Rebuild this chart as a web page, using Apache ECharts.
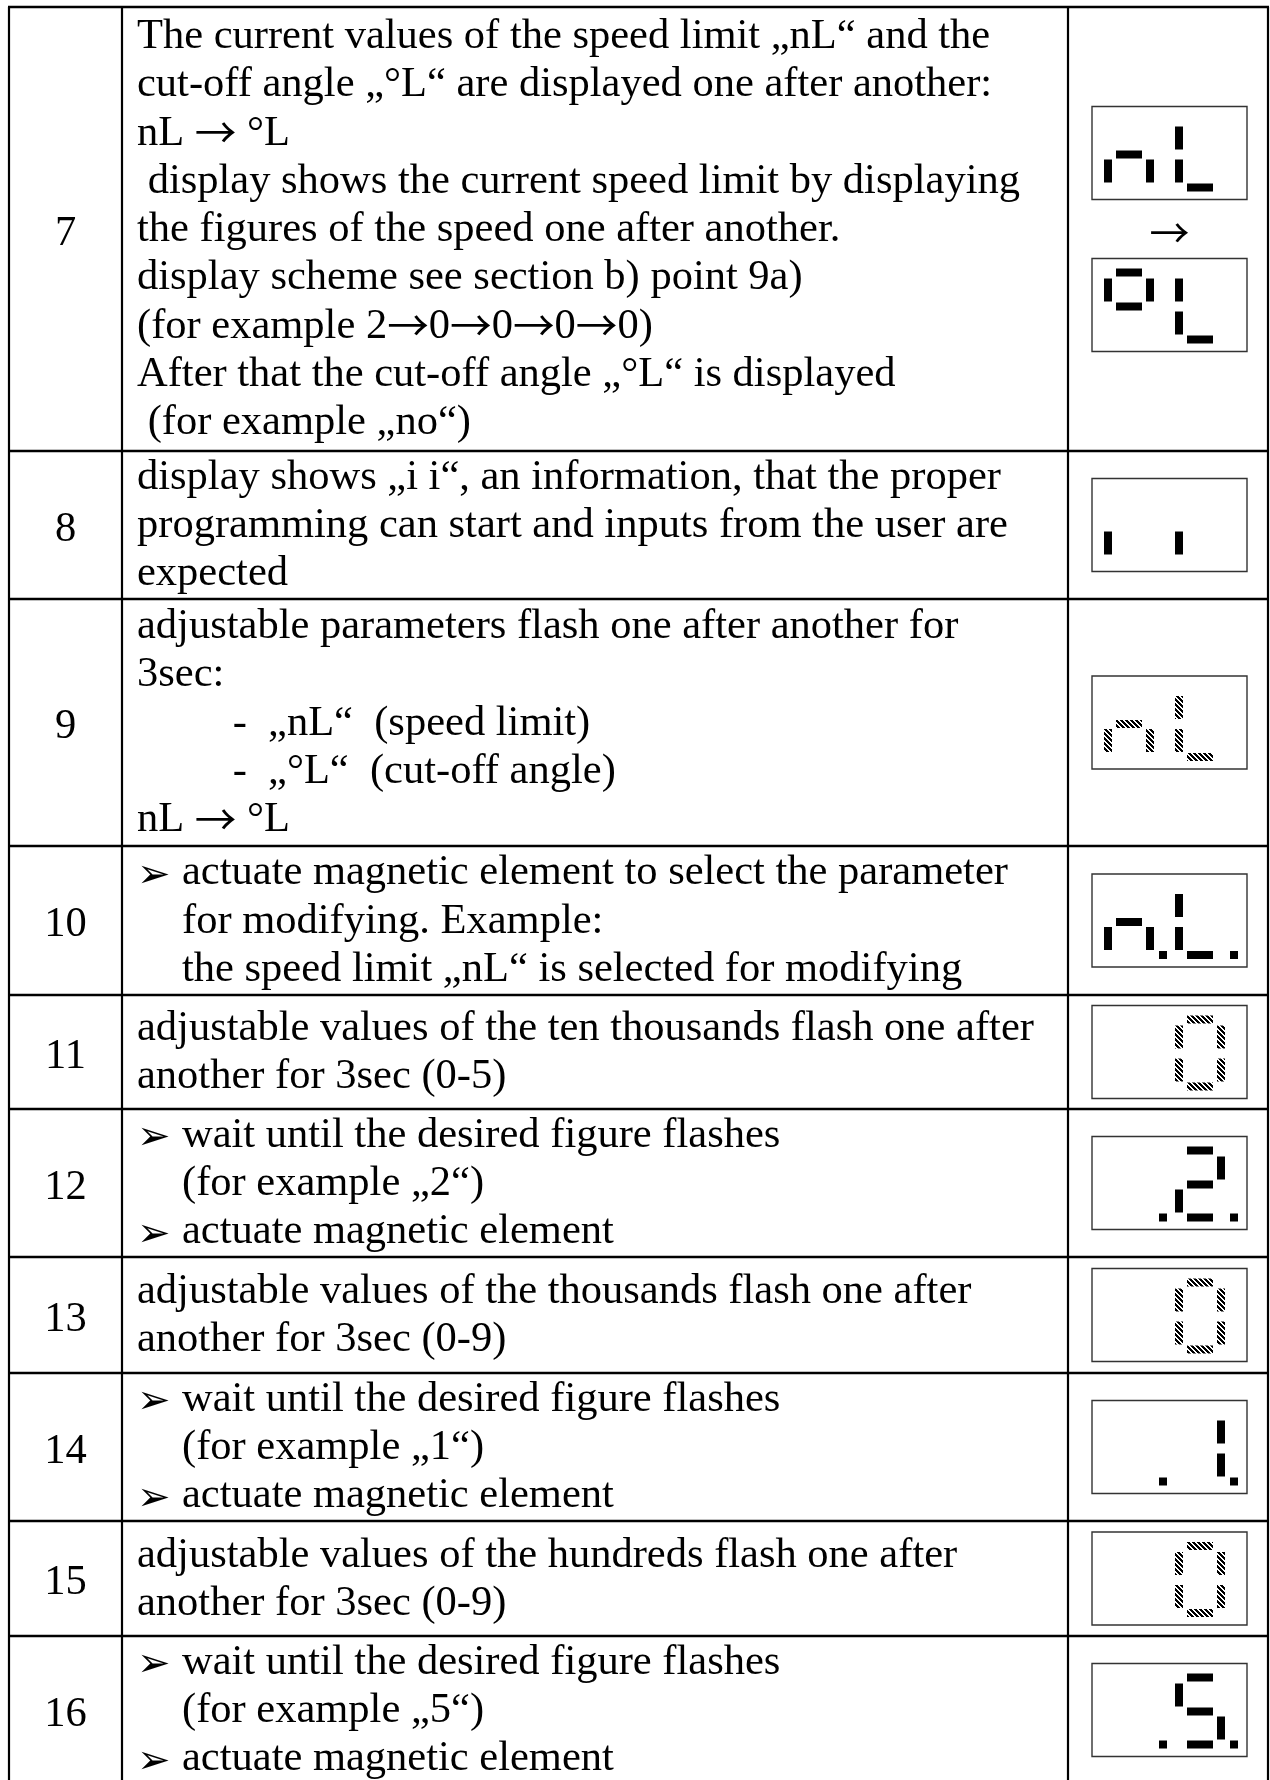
<!DOCTYPE html>
<html>
<head>
<meta charset="utf-8">
<script src="https://cdn.jsdelivr.net/npm/echarts@6/dist/echarts.min.js"></script>
<style>
  html, body { margin: 0; padding: 0; background: #fff; }
  #chart { width: 1270px; height: 1780px; }
</style>
</head>
<body>
<div id="chart"></div>
<script>
// ---------------- data ----------------
const rowNumbers = ['7', '8', '9', '10', '11', '12', '13', '14', '15', '16'];

const rowTexts = [
  [
    'The current values of the speed limit „nL“ and the',
    'cut-off angle „°L“ are displayed one after another:',
    'nL → °L',
    ' display shows the current speed limit by displaying',
    'the figures of the speed one after another.',
    'display scheme see section b) point 9a)',
    '(for example 2→0→0→0→0)',
    'After that the cut-off angle „°L“ is displayed',
    ' (for example „no“)'
  ],
  [
    'display shows „i i“, an information, that the proper',
    'programming can start and inputs from the user are',
    'expected'
  ],
  [
    'adjustable parameters flash one after another for',
    '3sec:',
    '         -  „nL“  (speed limit)',
    '         -  „°L“  (cut-off angle)',
    'nL → °L'
  ],
  [
    '➢ actuate magnetic element to select the parameter',
    'for modifying. Example:',
    'the speed limit „nL“ is selected for modifying'
  ],
  [
    'adjustable values of the ten thousands flash one after',
    'another for 3sec (0-5)'
  ],
  [
    '➢ wait until the desired figure flashes',
    '(for example „2“)',
    '➢ actuate magnetic element'
  ],
  [
    'adjustable values of the thousands flash one after',
    'another for 3sec (0-9)'
  ],
  [
    '➢ wait until the desired figure flashes',
    '(for example „1“)',
    '➢ actuate magnetic element'
  ],
  [
    'adjustable values of the hundreds flash one after',
    'another for 3sec (0-9)'
  ],
  [
    '➢ wait until the desired figure flashes',
    '(for example „5“)',
    '➢ actuate magnetic element'
  ]
];

// display content: characters shown on the 2-digit 7-segment display,
// decimal points lit, and whether the segments flash (hatched)
const displayChars = [['nL', '°L'], ['ii'], ['nL'], ['nL'], [' 0'], [' 2'], [' 0'], [' 1'], [' 0'], [' 5']];
const displayDots  = [[false, false], [false], [false], [true], [false], [true], [false], [true], [false], [true]];
const displayFlash = [[false, false], [false], [true], [false], [true], [false], [true], [false], [true], [false]];

// segments lit for each character
const segmentMap = {
  'n': 'ceg', 'L': 'def', '°': 'abfg', 'i': 'e',
  '0': 'abcdef', '1': 'bc', '2': 'abdeg', '5': 'acdfg', ' ': ''
};

// ---------------- layout ----------------
const rowEdges = [7, 451, 599, 846, 995, 1109, 1257, 1373, 1521, 1636, 1784];
const colX = [9, 122, 1068, 1268];
const textX = 137, indentX = 182;
const lineGap = 48.3;
const FONT = '"Liberation Serif", "Times New Roman", serif';
const ARROW_FONT = '"Noto Sans CJK JP", "DejaVu Sans", sans-serif';
const FS = 42.5;
const boxX = 1092, boxW = 155, boxH = 93;

// hatch pattern for flashing segments
const P = 5;
const pat = document.createElement('canvas');
pat.width = P; pat.height = P;
(function () {
  const c = pat.getContext('2d');
  c.fillStyle = '#fff'; c.fillRect(0, 0, P, P);
  c.fillStyle = '#000';
  for (let y = 0; y < P; y++) for (let x = 0; x < P; x++) {
    if (((x - y + 2 * P) % P) < 3) c.fillRect(x, y, 1, 1);
  }
})();
const hatch = { image: pat, repeat: 'repeat' };

const elements = [];

function addText(str, x, y, opts) {
  opts = opts || {};
  const style = {
    x: 0, y: 0,
    fontSize: opts.fs || FS, fontFamily: opts.ff || FONT,
    fill: '#000',
    align: opts.align || 'left', verticalAlign: 'middle',
    textAlign: opts.align || 'left', textVerticalAlign: 'middle'
  };
  if (str.indexOf('→') >= 0 && !opts.plain) {
    style.text = str.replace(/→/g, '{arr|→}');
    style.rich = { arr: { fontFamily: ARROW_FONT, fontSize: FS * 0.98, fill: '#000', padding: [0, 0, 2, 0] } };
  } else {
    style.text = str;
  }
  elements.push({ type: 'text', x: x, y: y, silent: true, style: style });
}
function addRect(x, y, w, h, fill) {
  elements.push({ type: 'rect', silent: true, shape: { x: x, y: y, width: w, height: h }, style: { fill: fill } });
}

// segment geometry relative to a digit origin
function segRects(seg) {
  switch (seg) {
    case 'a': return [12, 10, 26, 8];
    case 'b': return [42, 20, 8, 23];
    case 'c': return [42, 53, 8, 23];
    case 'd': return [12, 77, 26, 8];
    case 'e': return [0, 53, 8, 23];
    case 'f': return [0, 20, 8, 23];
    case 'g': return [12, 44, 26, 8];
  }
}

function drawDisplay(top, chars, dots, flash) {
  elements.push({
    type: 'rect', silent: true,
    shape: { x: boxX, y: top, width: boxW, height: boxH },
    style: { fill: '#fff', stroke: '#333', lineWidth: 1.4 }
  });
  const fill = flash ? hatch : '#000';
  for (let d = 0; d < chars.length; d++) {
    const bx = boxX + 12 + 71 * d;
    const segs = segmentMap[chars[d]] || '';
    for (const s of segs) {
      const r = segRects(s);
      addRect(bx + r[0], top + r[1], r[2], r[3], fill);
    }
    if (dots) addRect(bx + 55, top + 77, 8, 8, fill);
  }
}

// table lines
for (let i = 0; i < rowEdges.length; i++) {
  addRect(colX[0] - 1, rowEdges[i] - 1.2, colX[3] - colX[0] + 2, 2.4, '#000');
}
for (const x of colX) {
  addRect(x - 1.1, rowEdges[0], 2.2, rowEdges[rowEdges.length - 1] - rowEdges[0], '#000');
}

// rows
for (let r = 0; r < rowNumbers.length; r++) {
  const top = rowEdges[r], bot = rowEdges[r + 1];
  const cy = (top + bot) / 2;
  addText(rowNumbers[r], (colX[0] + colX[1]) / 2, cy + 4.5, { align: 'center' });

  const lines = rowTexts[r];
  const n = lines.length;
  const hasBullet = lines.some(l => l.startsWith('➢'));
  for (let i = 0; i < n; i++) {
    const baseline = cy + (i - (n - 1) / 2) * lineGap + 14;
    const yMid = baseline - 13;
    let s = lines[i];
    if (s.startsWith('➢')) {
      addText('➢', textX, baseline - 10, { ff: '"DejaVu Sans", sans-serif', fs: 40 });
      addText(s.replace(/^➢\s*/, ''), indentX, yMid);
    } else if (hasBullet) {
      addText(s, indentX, yMid);
    } else {
      addText(s, textX, yMid);
    }
  }

  const chars = displayChars[r];
  if (chars.length === 2) {
    // two displays with an arrow in between
    const gap = 59;
    const total = boxH * 2 + gap;
    const t0 = cy - total / 2;
    drawDisplay(t0, chars[0].split(''), displayDots[r][0], displayFlash[r][0]);
    addText('→', boxX + boxW / 2, t0 + boxH + gap / 2 + 4, { align: 'center', ff: ARROW_FONT, fs: 40, plain: true });
    drawDisplay(t0 + boxH + gap, chars[1].split(''), displayDots[r][1], displayFlash[r][1]);
  } else {
    drawDisplay(cy - boxH / 2, chars[0].split(''), displayDots[r][0], displayFlash[r][0]);
  }
}

const chart = echarts.init(document.getElementById('chart'), null, { renderer: 'canvas' });
chart.setOption({
  backgroundColor: '#fff',
  animation: false,
  graphic: { elements: elements }
});
</script>
</body>
</html>
